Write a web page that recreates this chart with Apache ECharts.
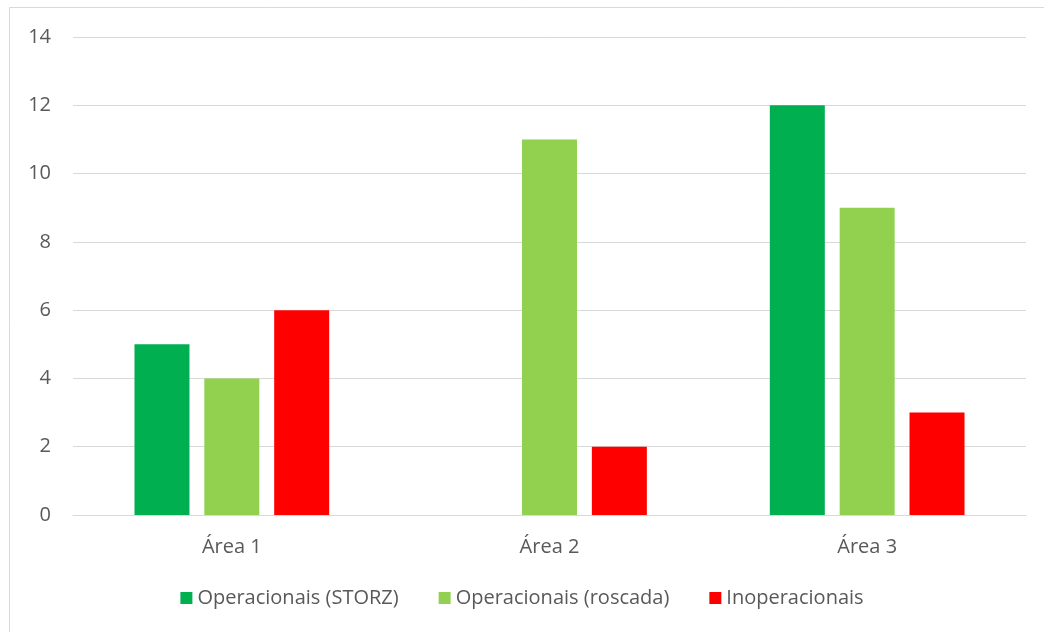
<!DOCTYPE html>
<html>
<head>
<meta charset="utf-8">
<script src="https://cdn.jsdelivr.net/npm/echarts@6/dist/echarts.min.js"></script>
<style>
  html, body { margin: 0; padding: 0; background: #fff; }
  #chart { width: 1044px; height: 632px; }
</style>
</head>
<body>
<div id="chart"></div>
<script>
// categorias e valores
const areas = ['Área 1', 'Área 2', 'Área 3']
const storz = [5, 0, 12]
const roscada = [4, 11, 9]
const inoperacionais = [6, 2, 3]

const textColor = '#595959'
const fontFamily = '"Open Sans", "Liberation Sans", sans-serif'

const chart = echarts.init(document.getElementById('chart'))

const option = {
  animation: false,
  textStyle: { fontFamily: fontFamily },
  graphic: [
    {
      type: 'rect',
      shape: { x: 9.5, y: 7.5, width: 1050, height: 640 },
      style: { fill: 'none', stroke: '#D9D9D9', lineWidth: 1 },
      silent: true
    }
  ],
  grid: {
    left: 73,
    right: 18,
    top: 37,
    bottom: 117
  },
  legend: {
    bottom: 19,
    left: 'center',
    itemWidth: 12,
    itemHeight: 12,
    itemGap: 40,
    icon: 'rect',
    textStyle: { color: textColor, fontSize: 20, fontFamily: fontFamily }
  },
  xAxis: {
    type: 'category',
    data: areas,
    axisTick: { show: false },
    axisLine: { lineStyle: { color: '#D9D9D9' } },
    axisLabel: { color: textColor, fontSize: 20, margin: 22 }
  },
  yAxis: {
    type: 'value',
    min: 0,
    max: 14,
    interval: 2,
    axisLine: { show: false },
    axisTick: { show: false },
    splitLine: { lineStyle: { color: '#D9D9D9' } },
    axisLabel: { color: textColor, fontSize: 20, margin: 22 }
  },
  series: [
    {
      name: 'Operacionais (STORZ)',
      type: 'bar',
      data: storz,
      barWidth: 55,
      barGap: '27%',
      itemStyle: { color: '#00B050' }
    },
    {
      name: 'Operacionais (roscada)',
      type: 'bar',
      data: roscada,
      barWidth: 55,
      barGap: '27%',
      itemStyle: { color: '#92D050' }
    },
    {
      name: 'Inoperacionais',
      type: 'bar',
      data: inoperacionais,
      barWidth: 55,
      barGap: '27%',
      itemStyle: { color: '#FF0000' }
    }
  ]
}

chart.setOption(option)
</script>
</body>
</html>
